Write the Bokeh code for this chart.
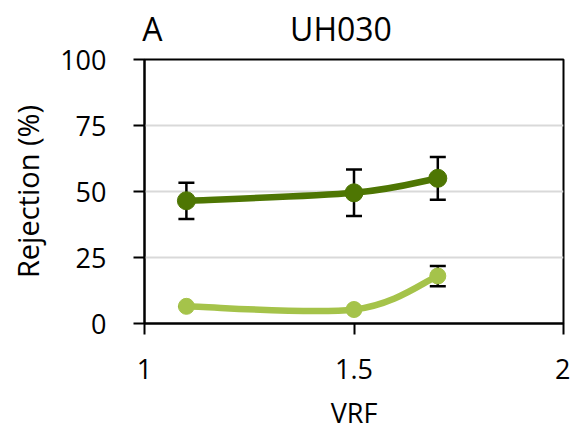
from bokeh.plotting import figure
from bokeh.models import Range1d, FixedTicker, LinearAxis, Whisker, ColumnDataSource, TeeHead
from bokeh.embed import file_html
from bokeh.resources import INLINE

# ---- data ----
vrf = [1.1, 1.5, 1.7]
dark_mean = [46.5, 49.5, 55.0]
dark_lo = [39.6, 40.7, 46.9]
dark_hi = [53.3, 58.3, 63.1]
light_mean = [6.5, 5.3, 18.0]
light_lo = [6.5, 5.3, 14.1]
light_hi = [6.5, 5.3, 21.8]
x_ticks = [1, 1.5, 2]
x_tick_labels = ["1", "1.5", "2"]
y_ticks = [0, 25, 50, 75, 100]
y_tick_labels = ["0", "25", "50", "75", "100"]
title_text = "UH030"
panel_text = "A"
x_label = "VRF"
y_label = "Rejection (%)"

DARK = "#4E7603"
LIGHT = "#A5C34A"
FONT = "Open Sans"

p = figure(width=570, height=433, output_backend="svg", toolbar_location=None,
           x_range=Range1d(1, 2), y_range=Range1d(0, 100),
           min_border_left=144, min_border_right=7, min_border_top=59, min_border_bottom=110)

p.outline_line_color = "black"
p.outline_line_width = 2
p.xgrid.visible = False
p.ygrid.grid_line_color = "#D9D9D9"
p.ygrid.grid_line_width = 2
p.ygrid.ticker = FixedTicker(ticks=y_ticks[1:-1])

for ax in (p.xaxis[0], p.yaxis[0]):
    ax.axis_line_color = "black"
    ax.axis_line_width = 2
    ax.major_tick_line_color = "black"
    ax.major_tick_line_width = 2
    ax.major_tick_in = 0
    ax.major_tick_out = 11
    ax.minor_tick_line_color = None
    ax.major_label_text_font = FONT
    ax.major_label_text_font_size = "27px"
    ax.major_label_text_color = "black"
    ax.axis_label_text_font = FONT
    ax.axis_label_text_font_style = "normal"
    ax.axis_label_text_color = "black"

p.xaxis.ticker = FixedTicker(ticks=x_ticks)
p.xaxis.major_label_overrides = {t: l for t, l in zip(x_ticks, x_tick_labels)}
p.yaxis.ticker = FixedTicker(ticks=y_ticks)
p.yaxis.major_label_overrides = {t: l for t, l in zip(y_ticks, y_tick_labels)}
p.xaxis.major_label_standoff = 24
p.yaxis.major_label_standoff = 27
p.xaxis.axis_label = x_label
p.xaxis.axis_label_text_font_size = "27px"
p.xaxis.axis_label_standoff = 12
p.yaxis.axis_label = y_label
p.yaxis.axis_label_text_font_size = "29px"
p.yaxis.axis_label_standoff = 10

# top texts (panel letter and title) drawn as labels of an extra axis above the frame
head_pos = [1.019, 1.469]
top_axis = LinearAxis(ticker=FixedTicker(ticks=head_pos),
                      major_label_overrides={head_pos[0]: panel_text, head_pos[1]: title_text},
                      axis_line_color=None, major_tick_line_color=None, minor_tick_line_color=None,
                      major_tick_in=0, major_tick_out=0, major_label_standoff=10,
                      major_label_text_font=FONT, major_label_text_font_size="32px",
                      major_label_text_color="black")
p.add_layout(top_axis, "above")


def smooth_segments(xs, ys):
    # Catmull-Rom style bezier control points (Excel-like smoothing)
    n = len(xs)
    out = dict(x0=[], y0=[], x1=[], y1=[], cx0=[], cy0=[], cx1=[], cy1=[])
    for i in range(n - 1):
        i0 = max(i - 1, 0)
        i3 = min(i + 2, n - 1)
        out["x0"].append(xs[i]); out["y0"].append(ys[i])
        out["x1"].append(xs[i + 1]); out["y1"].append(ys[i + 1])
        out["cx0"].append(xs[i] + (xs[i + 1] - xs[i0]) / 6)
        out["cy0"].append(ys[i] + (ys[i + 1] - ys[i0]) / 6)
        out["cx1"].append(xs[i + 1] - (xs[i3] - xs[i]) / 6)
        out["cy1"].append(ys[i + 1] - (ys[i3] - ys[i]) / 6)
    return out


for mean, lo, hi, col, sz in ((dark_mean, dark_lo, dark_hi, DARK, 18),
                               (light_mean, light_lo, light_hi, LIGHT, 16)):
    seg = ColumnDataSource(smooth_segments(vrf, mean))
    p.bezier(x0="x0", y0="y0", x1="x1", y1="y1", cx0="cx0", cy0="cy0",
             cx1="cx1", cy1="cy1", source=seg, line_color=col, line_width=6.5)
    err = ColumnDataSource(dict(x=vrf, lo=lo, hi=hi))
    w = Whisker(base="x", lower="lo", upper="hi", source=err, line_color="black", line_width=2.5,
                upper_head=TeeHead(size=16, line_color="black", line_width=2.5),
                lower_head=TeeHead(size=16, line_color="black", line_width=2.5))
    p.add_layout(w)
    p.scatter(vrf, mean, size=sz, fill_color=col, line_color=col)

open("out.html", "w").write(file_html(p, INLINE))
